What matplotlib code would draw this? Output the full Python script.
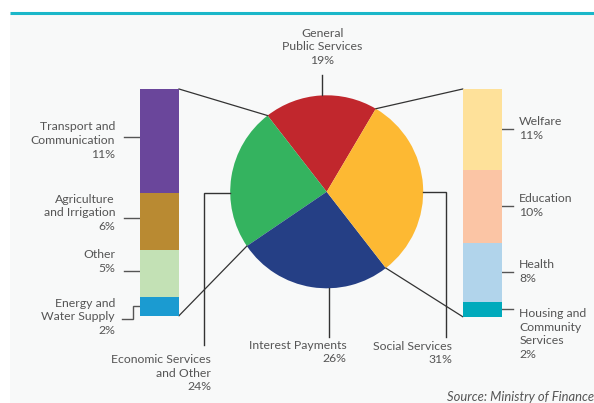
import numpy as np
import matplotlib
matplotlib.use("Agg")
import matplotlib.pyplot as plt

# ---------------- data ----------------
pie_labels = ["General\nPublic Services", "Economic Services\nand Other", "Interest Payments", "Social Services"]
pie_values = [19, 24, 26, 31]
pie_colors = ["#c1272d", "#34b35f", "#253f85", "#fdb933"]

left_labels = ["Transport and\nCommunication", "Agriculture\nand Irrigation", "Other", "Energy and\nWater Supply"]
left_values = [11, 6, 5, 2]
left_colors = ["#6a469b", "#b98a32", "#c3e1b5", "#1b9bd1"]

right_labels = ["Welfare", "Education", "Health", "Housing and\nCommunity\nServices"]
right_values = [11, 10, 8, 2]
right_colors = ["#fee19a", "#fbc5a5", "#b1d4eb", "#00aabc"]

source_text = "Source: Ministry of Finance"

# ---------------- figure ----------------
W, H = 594, 403
fig = plt.figure(figsize=(W / 100, H / 100), dpi=100)
fig.patch.set_facecolor("white")
ax = fig.add_axes([0, 0, 1, 1])
ax.set_xlim(0, W)
ax.set_ylim(0, H)
ax.axis("off")

def Y(y):
    return H - y

FONT = "Lato"
TXT = "#555555"
LINE = "#333333"
FS = 8.8
LS = 1.29

# background panel and top rule
ax.add_patch(plt.Rectangle((10, 0), W - 10, Y(14), facecolor="#f8f9f9", edgecolor="none", zorder=0))
ax.plot([10, W], [Y(12.5), Y(12.5)], color="#1ab7c9", lw=2.2, solid_capstyle="butt", zorder=1)

# ---------------- pie ----------------
cx, cy, R = 326.7, 191.8, 96.5
wedges, _ = ax.pie(pie_values, colors=pie_colors, startangle=59.4, counterclock=True,
                   center=(cx, Y(cy)), radius=R, frame=True,
                   wedgeprops=dict(linewidth=0))
ax.set_xlim(0, W)
ax.set_ylim(0, H)
ax.set_aspect("equal")
ax.axis("off")

def pie_pt(theta):
    t = np.deg2rad(theta)
    return cx + R * np.cos(t), Y(cy) + R * np.sin(t)

# bar geometry (pixels)
LB = dict(x0=140, x1=179, y0=89, y1=315.7)
RB = dict(x0=462.7, x1=502, y0=89, y1=316.7)

def stacked_bar(geom, values, colors):
    bax = fig.add_axes([geom["x0"] / W, (H - geom["y1"]) / H,
                        (geom["x1"] - geom["x0"]) / W, (geom["y1"] - geom["y0"]) / H])
    total = sum(values)
    bottoms = np.concatenate([[0], np.cumsum(values)[:-1]])
    bax.bar([0] * len(values), values, bottom=bottoms, color=colors, width=1.0, linewidth=0)
    bax.set_xlim(-0.5, 0.5)
    bax.set_ylim(total, 0)
    bax.axis("off")
    return bax, bottoms

stacked_bar(LB, left_values, left_colors)
stacked_bar(RB, right_values, right_colors)

# connectors from pie to bars
red, green, blue, orange = wedges
lw = 0.9
p = pie_pt(red.theta2)
ax.plot([p[0], LB["x1"]], [p[1], Y(LB["y0"])], color=LINE, lw=lw)
p = pie_pt(green.theta2)
ax.plot([p[0], LB["x1"]], [p[1], Y(LB["y1"])], color=LINE, lw=lw)
p = pie_pt(red.theta1)
ax.plot([p[0], RB["x0"]], [p[1], Y(RB["y0"])], color=LINE, lw=lw)
p = pie_pt(orange.theta1)
ax.plot([p[0], RB["x0"]], [p[1], Y(RB["y1"])], color=LINE, lw=lw)

def seg(pts, color=LINE, w=1.0):
    xs = [q[0] for q in pts]
    ys = [Y(q[1]) for q in pts]
    ax.plot(xs, ys, color=color, lw=w, solid_joinstyle="miter")

def label(x, y, s, ha, style="normal", size=FS):
    ax.text(x, Y(y), s, ha=ha, va="center", fontsize=size, family=FONT, color=TXT,
            linespacing=LS, style=style, multialignment=ha if ha != "center" else "center")

# pie labels
label(322.5, 47, f"{pie_labels[0]}\n{pie_values[0]}%", "center")
seg([(321.7, cy - R), (321.7, 75)])

label(211, 373.3, f"{pie_labels[1]}\n{pie_values[1]}%", "right")
seg([(cx - R, 193.3), (204, 193.3), (204, 345)])

label(346.7, 352, f"{pie_labels[2]}\n{pie_values[2]}%", "right")
seg([(329.3, cy + R), (329.3, 336.7)])

label(452, 353, f"{pie_labels[3]}\n{pie_values[3]}%", "right")
seg([(cx + R, 192), (445.7, 192), (445.7, 336.7)])

# left bar labels
gray = "#555555"
left_text_y = [140.5, 212.7, 261.5, 317]
left_leader_y = [137.3, 217.7, 270.7, None]
for s, v, ty, ly in zip(left_labels, left_values, left_text_y, left_leader_y):
    label(115, ty, f"{s}\n{v}%", "right")
    if ly is not None:
        seg([(124.3, ly), (LB["x0"], ly)], color=gray)
seg([(121.7, 319), (132.7, 319), (132.7, 306), (LB["x0"], 306)], color=gray)

# right bar labels
right_text_y = [128.4, 205.5, 271.5, 334]
right_leader_y = [129, 205.7, 272.3, 309.3]
for s, v, ty, ly in zip(right_labels, right_values, right_text_y, right_leader_y):
    label(519.3, ty, f"{s}\n{v}%", "left")
    seg([(RB["x1"], ly), (512.7, ly)], color=gray)

label(446.7, 396.7, source_text, "left", style="italic", size=9.4)

fig.savefig("out.png", dpi=100)
